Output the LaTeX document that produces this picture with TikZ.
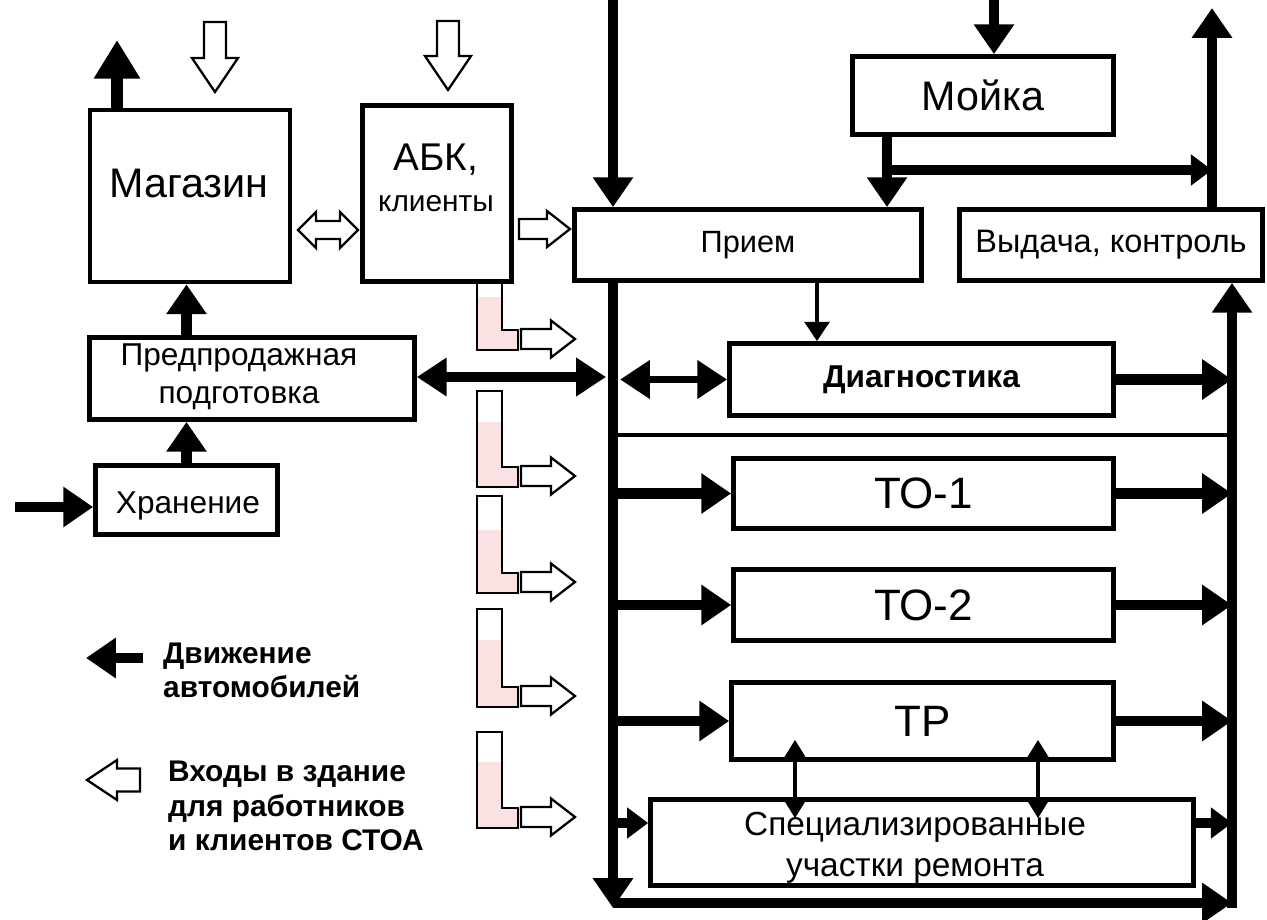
\documentclass[tikz,border=0pt]{standalone}
\usepackage{fontspec}
\setmainfont{Liberation Sans}
\usetikzlibrary{arrows.meta,calc}

\definecolor{doorpink}{HTML}{FBE2E2}

\tikzset{
  box/.style={draw, line width=2.7pt, inner sep=0pt, align=center},
  t17/.style={font=\fontsize{17.5}{20}\selectfont},
  t18/.style={font=\fontsize{18}{21.5}\selectfont},
  t23/.style={font=\fontsize{23.5}{27}\selectfont},
  t25/.style={font=\fontsize{25}{29}\selectfont},
  legend/.style={font=\bfseries\fontsize{17}{19.5}\selectfont, align=left, anchor=west},
  car/.style={line width=6pt, -{Triangle[length=17pt,width=22pt]}},
  carbig/.style={line width=6.5pt, -{Triangle[length=22pt,width=25pt]}},
  carsmall/.style={line width=6pt, -{Triangle[length=12pt,width=17pt]}},
  carboth/.style={line width=6pt, {Triangle[length=17pt,width=21pt]}-{Triangle[length=17pt,width=21pt]}},
  link/.style={line width=2.4pt, -{Triangle[length=11pt,width=14pt]}},
  linkboth/.style={line width=2pt, {Triangle[length=11pt,width=13pt]}-{Triangle[length=11pt,width=13pt]}},
  sepline/.style={line width=1.8pt},
  entryline/.style={draw, fill=white, line width=1.3pt, line join=miter},
  lshape/.style={line width=0.9pt},
  % hollow entrance arrow: length, half shaft, half head, head length
  pics/entry/.style n args={4}{code={
    \path[entryline] (0,-#2) -- (#1-#4,-#2) -- (#1-#4,-#3) -- (#1,0)
      -- (#1-#4,#3) -- (#1-#4,#2) -- (0,#2) -- cycle;
  }},
  pics/entryboth/.style n args={4}{code={
    \path[entryline] (0,0) -- (#4,-#3) -- (#4,-#2) -- (#1-#4,-#2) -- (#1-#4,-#3) -- (#1,0)
      -- (#1-#4,#3) -- (#1-#4,#2) -- (#4,#2) -- (#4,#3) -- cycle;
  }}
}

\begin{document}
\begin{tikzpicture}[x=0.02cm, y=-0.02cm]
\useasboundingbox (0,0) rectangle (1267,919);

% left block
\node[box, minimum width=4cm, minimum height=3.44cm] (shop) at (190,196) {};
\node[t23] (shoptxt) at (189,183) {Магазин};
\node[box, minimum width=2.98cm, minimum height=3.52cm] (abk) at (437,193.5) {};
\node[font=\fontsize{22}{26}\selectfont] (abktxt) at (436,160) {АБК,};
\node[font=\fontsize{17}{20}\selectfont] (clienttxt) at (436,204) {клиенты};
\node[box, minimum width=6.5cm, minimum height=1.64cm] (presale) at (252,378.5) {};
\node[t18, align=center] (presaletxt) at (239,377) {Предпродажная\\подготовка};
\node[box, t18, minimum width=3.64cm, minimum height=1.38cm] (storage) at (186.5,500) {};
\node[t18] (storagetxt) at (188,506) {Хранение};

% service block
\node[box, t17, minimum width=6.94cm, minimum height=1.42cm] (priem) at (748,245) {Прием};
\node[box, font=\fontsize{18.5}{22}\selectfont, minimum width=6.07cm, minimum height=1.42cm]
  (vydacha) at (1111,245) {Выдача, контроль};
\node[box, t23, minimum width=5.22cm, minimum height=1.56cm] (moika) at (983,95.5) {Мойка};
\node[box, font=\bfseries\fontsize{18}{21}\selectfont, minimum width=7.68cm, minimum height=1.44cm]
  (diag) at (921.5,379.5) {Диагностика};
\node[box, t25, minimum width=7.6cm, minimum height=1.4cm] (to1) at (923.5,493.5) {ТО-1};
\node[box, t25, minimum width=7.6cm, minimum height=1.42cm] (to2) at (923.5,605) {ТО-2};
\node[box, t25, minimum width=7.64cm, minimum height=1.54cm] (tr) at (922.5,721) {ТР};
\node[box, minimum width=10.86cm, minimum height=1.72cm] (spec) at (922,842.5) {};
\node[font=\fontsize{19}{23}\selectfont, align=center] (spectxt) at (915,848)
  {Специализированные\\участки ремонта};

% free ends
\coordinate (lvtop) at (613,0);
\coordinate (lvbot) at (613,908);
\coordinate (rvbot) at (1232,908);
\coordinate (outtop) at (1212,8);
\coordinate (washtop) at (994,0);
\coordinate (washfork) at (887,170);
\coordinate (shopout) at (117,40);
\coordinate (storein) at (15,507);
\coordinate (pslink) at (606,377);
\coordinate (specin) at (613,823);
\coordinate (botline) at (613,903);
\coordinate (diagin) at (817,0);
\coordinate (sep) at (613,435);
\coordinate (legtail) at (143,658);
\coordinate (leghead) at (86,658);

% car flow
\draw[car] (lvtop) -- (lvtop |- priem.north);
\draw[car] (lvtop |- priem.south) -- (lvbot);
\draw[car] (rvbot) -- (rvbot |- vydacha.south);
\draw[car] (outtop |- vydacha.north) -- (outtop);
\draw[car] (washtop) -- (washtop |- moika.north);
\draw[car] (washfork |- moika.south) -- (washfork |- priem.north);
\draw[carsmall] (washfork) -- (outtop |- washfork);
\draw[carbig] (shopout |- shop.north) -- (shopout);
\draw[car] (storein) -- (storein -| storage.west);
\draw[car] (storage.north) -- (storage.north |- presale.south);
\draw[car] (storage.north |- presale.north) -- (storage.north |- shop.south);
\draw[carboth] (presale.east |- pslink) -- (pslink);
\draw[carboth, line width=4.5pt] ([xshift=4pt]lvtop |- diag.west) -- (diag.west);
\foreach \b in {to1,to2,tr}
  \draw[car] (lvtop |- \b.west) -- (\b.west);
\foreach \b in {diag,to1,to2,tr}
  \draw[car] (\b.east) -- (rvbot |- \b.east);
\draw[carsmall] (specin) -- (specin -| spec.west);
\draw[carsmall] (spec.east |- specin) -- (rvbot |- specin);
\draw[car] (botline) -- (rvbot |- botline);
\draw[link] (diagin |- priem.south) -- (diagin |- diag.north);
\draw[sepline] (sep) -- (sep -| rvbot);
\foreach \x in {795,1038}
  \draw[linkboth] ($(tr.south -| \x,0)+(0,-22)$) -- ($(spec.north -| \x,0)+(0,21)$);

% entrances
\pic[rotate=-90] at (215,22) {entry={70}{11}{23}{34}};
\pic[rotate=-90] at (448,21) {entry={69}{11}{23}{34}};
\pic at (298,230) {entryboth={60}{9}{18}{18}};
\pic at (519,229) {entry={51}{10}{18}{23}};
\foreach \i/\t/\p/\b in {1/283/297/350, 2/391/422/487, 3/496/530/593, 4/609/640/707, 5/732/762/828}{
  \fill[doorpink] (477,\p) -- (502,\p) -- (502,\b-20) -- (518,\b-20) -- (518,\b) -- (477,\b) -- cycle;
  \draw[lshape] (477,\t) -- (502,\t) -- (502,\b-20) -- (518,\b-20) -- (518,\b) -- (477,\b) -- cycle;
  \pic at (521,\b-11) {entry={54}{10}{18.5}{24}};
}

% legend
\draw[car] (legtail) -- (leghead);
\node[legend] (legcar) at (157,670) {Движение\\автомобилей};
\pic[rotate=180] at (140,780) {entry={53}{11.5}{20}{30}};
\node[legend] (legwalk) at (162,806) {Входы в здание\\для работников\\и клиентов СТОА};
\end{tikzpicture}
\end{document}
